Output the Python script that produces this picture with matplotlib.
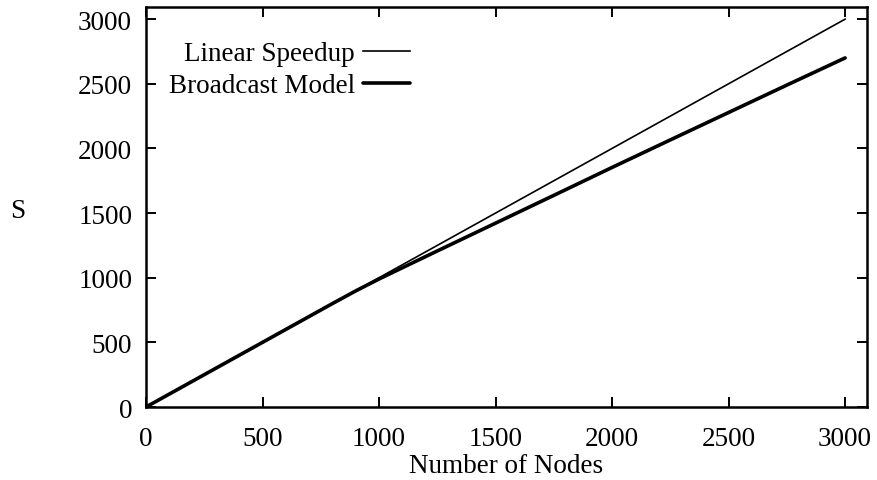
import matplotlib
matplotlib.use("Agg")
import matplotlib.pyplot as plt

nodes_linear = [0, 3000]
speedup_linear = [0, 3000]

nodes_bcast = [0, 500, 800, 900, 1000, 1100, 1250, 1500, 1750, 2000, 2250, 2500, 2750, 3000]
speedup_bcast = [0, 500, 800, 898, 990, 1077, 1207, 1422, 1637, 1853, 2066, 2278, 2490, 2700]

xticks = [0, 500, 1000, 1500, 2000, 2500, 3000]
yticks = [0, 500, 1000, 1500, 2000, 2500, 3000]

plt.rcParams['font.family'] = ['Liberation Serif', 'DejaVu Serif']
fs = 19.5

fig = plt.figure(figsize=(8.77, 4.81), dpi=100)
ax = fig.add_axes([146/877, 1-408/481, 721/877, 400/481])

ax.plot(nodes_linear, speedup_linear, color='black', lw=1.2, label='Linear Speedup')
ax.plot(nodes_bcast, speedup_bcast, color='black', lw=2.6, label='Broadcast Model',
        solid_capstyle='round', solid_joinstyle='round')

ax.set_xlim(0, 3094)
ax.set_ylim(0, 3094)
ax.set_xticks(xticks)
ax.set_yticks(yticks)
ax.tick_params(direction='in', length=7, width=1.4, top=True, right=True,
               labelsize=fs)
ax.tick_params(axis='x', pad=14)
ax.tick_params(axis='y', pad=10)
for s in ax.spines.values():
    s.set_linewidth(1.8)

ax.set_xlabel('Number of Nodes', fontsize=fs, labelpad=1)
ax.set_ylabel('S', fontsize=fs, rotation=0, va='center', ha='center')
ax.yaxis.set_label_coords(-0.178, 0.49)

ax.legend(loc='upper right', bbox_to_anchor=(0.366, 0.915), frameon=False,
          markerfirst=False, fontsize=fs, handlelength=1.74, handletextpad=0.3,
          labelspacing=0.27, borderpad=0, borderaxespad=0)

fig.savefig('out.png', dpi=100)
